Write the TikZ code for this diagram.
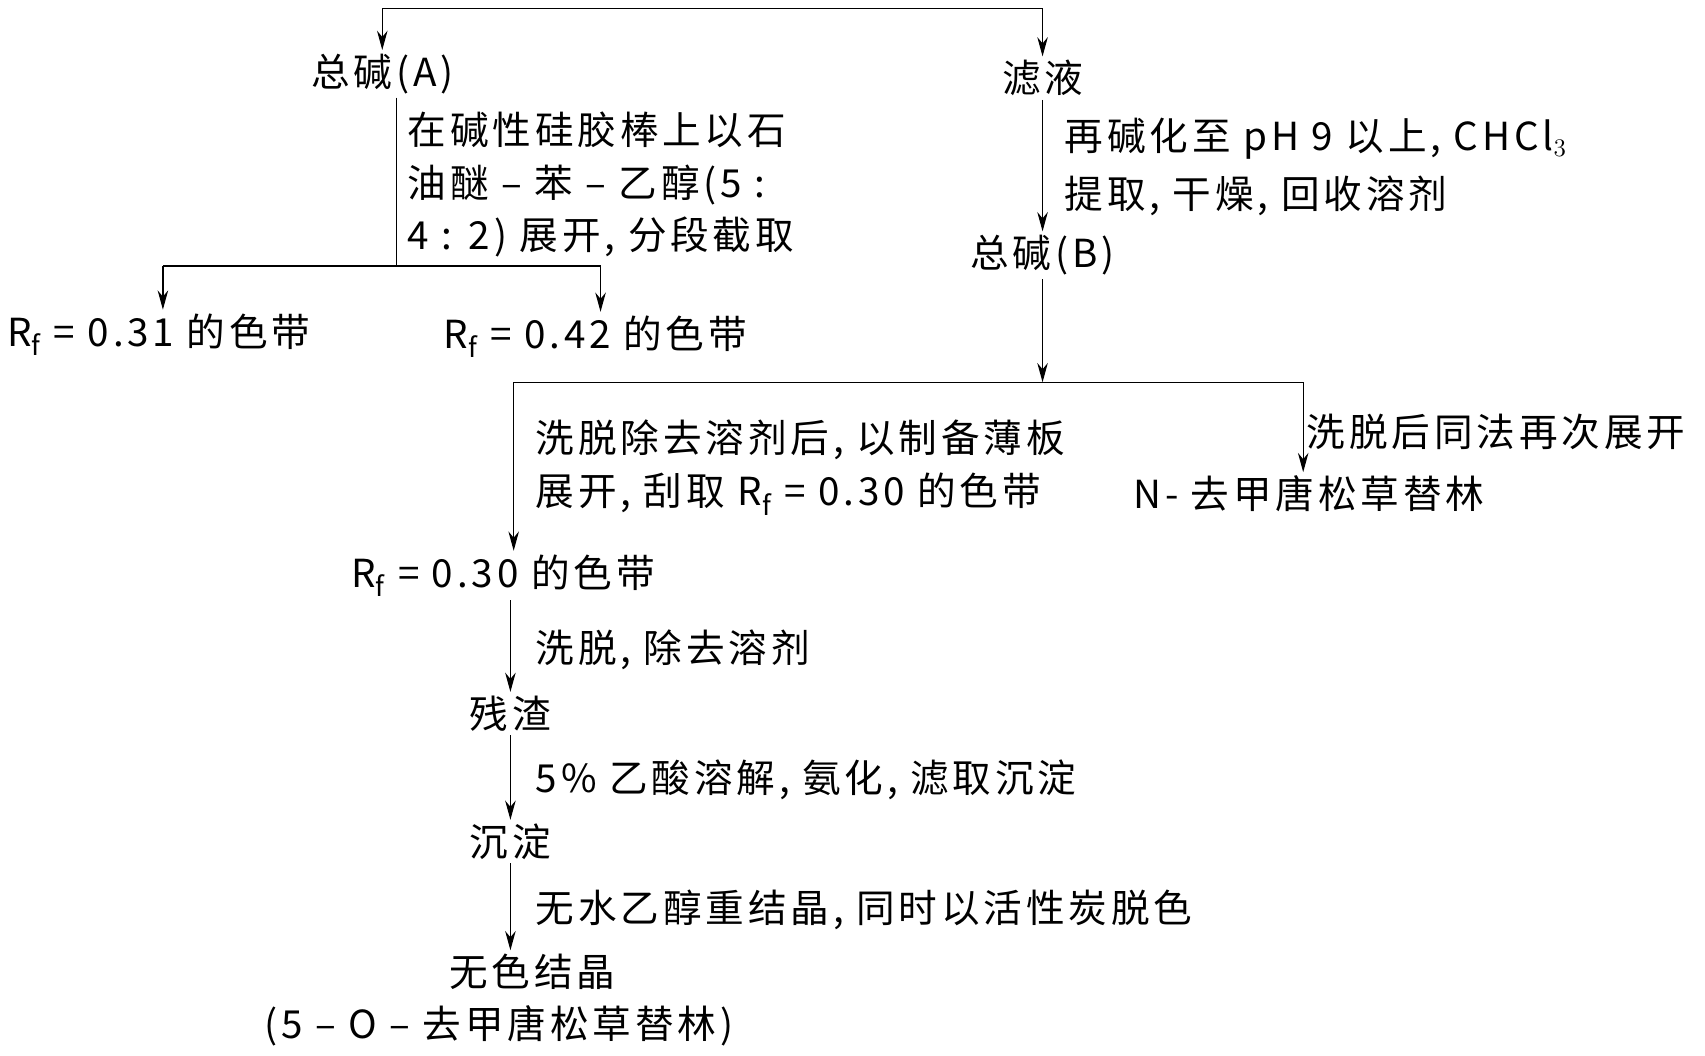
\documentclass[tikz,border=0pt]{standalone}
\usepackage{fontspec}
\setmainfont[LetterSpace=10]{Noto Sans CJK SC}
\usetikzlibrary{arrows.meta}
\tikzset{
  lbl/.style={anchor=west,inner sep=0pt,font=\fontsize{22}{26}\selectfont},
  box/.style={inner sep=2pt,font=\fontsize{22}{26}\selectfont},
  flow/.style={-{Stealth[length=11pt,width=6pt]},line width=0.7pt},
  ln/.style={line width=0.7pt}
}
\newcommand{\rf}{R$_\mathrm{f}$}
\begin{document}
\begin{tikzpicture}[x=0.02174cm,y=-0.02174cm]
  \useasboundingbox (0,0) rectangle (1570,972);
  % nos
  \node[box] (A) at (352,68) {总碱(A)};
  \node[box] (L) at (960,72) {滤液};
  \node[box] (B) at (960,235) {总碱(B)};
  \node[box,anchor=west] (R31) at (3,308) {\rf\ = 0.31 的色带};
  \node[box,anchor=west] (R42) at (405,310) {\rf\ = 0.42 的色带};
  \node[box,anchor=west] (N) at (1040,455) {N- 去甲唐松草替林};
  \node[box,anchor=west] (R30) at (320,530) {\rf\ = 0.30 的色带};
  \node[box] (C) at (470,657) {残渣};
  \node[box] (D) at (470,775) {沉淀};
  \node[box] (E) at (490,895) {无色结晶};
  \node[box,anchor=west] (E2) at (240,945) {(5 – O – 去甲唐松草替林)};
  % pontos
  \coordinate (t1) at (352,8);
  \coordinate (t2) at (960,8);
  \coordinate (a1) at (365,245);
  \coordinate (a2) at (150,245);
  \coordinate (a3) at (553,245);
  \coordinate (b1) at (960,352);
  \coordinate (b2) at (473,352);
  \coordinate (b3) at (1200,352);
  % linhas
  \draw[ln] (t1) -- (t2);
  \draw[flow] (t1) -- (A.north);
  \draw[flow] (t2) -- (L.north);
  \draw[ln] (A.south -| a1) -- (a1);
  \draw[ln] (a2) -- (a3);
  \draw[flow] (a2) -- (R31.north -| a2);
  \draw[flow] (a3) -- (R42.north -| a3);
  \draw[flow] (L) -- (B);
  \draw[flow] (B) -- (b1);
  \draw[ln] (b2) -- (b3);
  \draw[flow] (b2) -- (R30.north -| b2);
  \draw[flow] (b3) -- (N.north -| b3);
  \draw[flow] (R30.south -| C) -- (C);
  \draw[flow] (C) -- (D);
  \draw[flow] (D) -- (E.north -| D);
  % textos
  \node[lbl] at (375,120) {在碱性硅胶棒上以石};
  \node[lbl] at (375,170) {油醚 – 苯 – 乙醇(5 :};
  \node[lbl] at (375,218) {4 : 2) 展开, 分段截取};
  \node[lbl] at (980,128) {再碱化至 pH 9 以上, CHCl$_3$};
  \node[lbl] at (980,180) {提取, 干燥, 回收溶剂};
  \node[lbl] at (493,405) {洗脱除去溶剂后, 以制备薄板};
  \node[lbl] at (493,455) {展开, 刮取 \rf\ = 0.30 的色带};
  \node[lbl] at (1203,398) {洗脱后同法再次展开};
  \node[lbl] at (493,598) {洗脱, 除去溶剂};
  \node[lbl] at (493,718) {5\% 乙酸溶解, 氨化, 滤取沉淀};
  \node[lbl] at (493,838) {无水乙醇重结晶, 同时以活性炭脱色};
\end{tikzpicture}
\end{document}
